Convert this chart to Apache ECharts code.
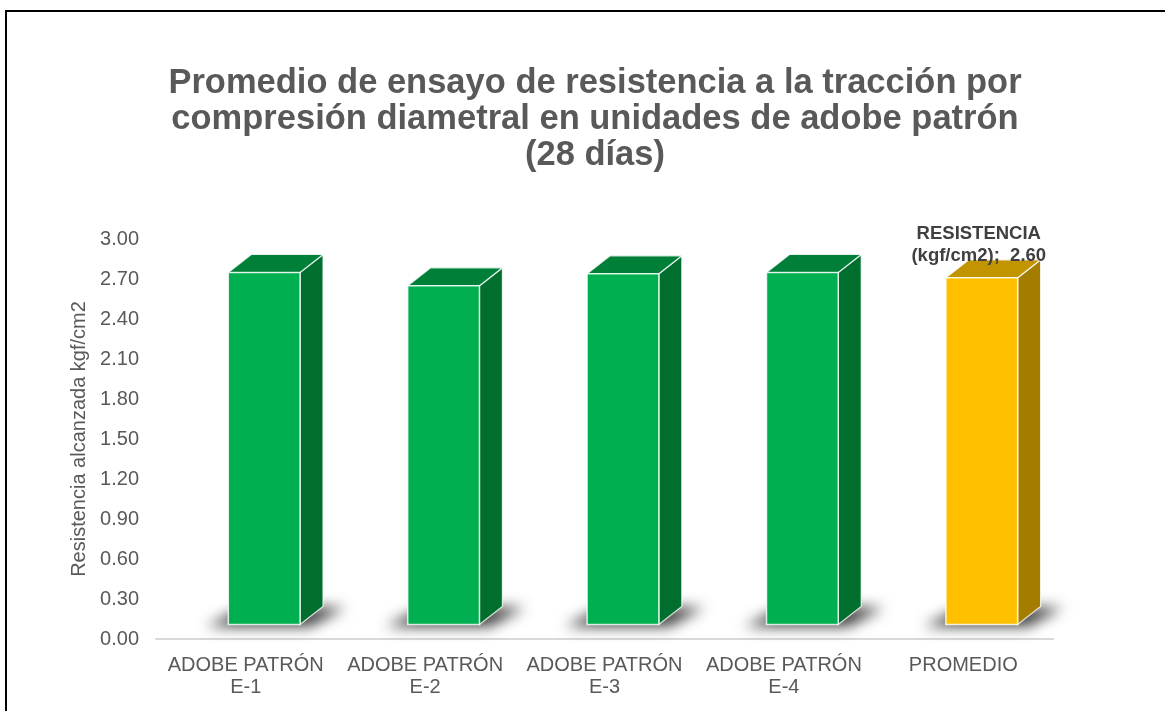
<!DOCTYPE html>
<html>
<head>
<meta charset="utf-8">
<script src="https://cdn.jsdelivr.net/npm/echarts@6/dist/echarts.min.js"></script>
<style>
  html, body { margin: 0; padding: 0; background: #ffffff; }
  #chart { width: 1165px; height: 711px; }
</style>
</head>
<body>
<div id="chart"></div>
<script>
// Chart data
var titleText = 'Promedio de ensayo de resistencia a la tracción por\ncompresión diametral en unidades de adobe patrón\n(28 días)';
var categories = ['ADOBE PATRÓN\nE-1', 'ADOBE PATRÓN\nE-2', 'ADOBE PATRÓN\nE-3', 'ADOBE PATRÓN\nE-4', 'PROMEDIO'];
var resistencia = [2.64, 2.54, 2.63, 2.64, 2.60];
var seriesName = 'RESISTENCIA\n(kgf/cm2)';
var yAxisName = 'Resistencia alcanzada kgf/cm2';
var labelledIndex = 4; // only the average bar carries a value label

var faceColors = {
  green: { front: '#00B050', top: '#007F38', side: '#006F2E' },
  gold:  { front: '#FFC000', top: '#C29400', side: '#A37C00' }
};

var chart = echarts.init(document.getElementById('chart'), null, { renderer: 'canvas' });

// Draws one pseudo-3D column: floor shadow, side face, top face and front face.
function renderColumn(params, api) {
  var idx = api.value(0);
  var v = api.value(1);
  var band = api.size([1, 0])[0];
  var base = api.coord([idx, 0]);
  var top = api.coord([idx, v]);
  var lift = 14.5;               // front face sits slightly above the floor line
  var w = band * 0.40;
  var off = band * 0.103;
  var dx = band * 0.128, dy = 18;
  var x0 = base[0] + off - w / 2, x1 = x0 + w;
  var yb = base[1] - lift, yt = top[1] - lift;
  var col = idx === categories.length - 1 ? faceColors.gold : faceColors.green;
  var edge = 'rgba(255,255,255,0.8)';
  var far = 4000; // shadow shape is drawn off-canvas, only its blur is shifted back

  var children = [
    {
      type: 'polygon',
      shape: { points: [
        [x0 - 22 - far, yb + 2], [x1 + 10 - far, yb + 2],
        [x1 + dx + 22 - far, yb - dy + 1], [x0 + dx - 6 - far, yb - dy + 1]
      ] },
      style: {
        fill: 'rgba(0,0,0,0.9)',
        shadowBlur: 14,
        shadowColor: 'rgba(0,0,0,0.85)',
        shadowOffsetX: far,
        shadowOffsetY: 0
      },
      silent: true
    },
    {
      type: 'polygon',
      shape: { points: [[x1, yt], [x1 + dx, yt - dy], [x1 + dx, yb - dy], [x1, yb]] },
      style: { fill: col.side, stroke: edge, lineWidth: 1.2 }
    },
    {
      type: 'polygon',
      shape: { points: [[x0, yt], [x1, yt], [x1 + dx, yt - dy], [x0 + dx, yt - dy]] },
      style: { fill: col.top, stroke: edge, lineWidth: 1.2 }
    },
    {
      type: 'rect',
      shape: { x: x0, y: yt, width: w, height: yb - yt },
      style: { fill: col.front, stroke: edge, lineWidth: 1.5 }
    }
  ];

  if (idx === labelledIndex) {
    children.push({
      type: 'text',
      style: {
        text: seriesName.split('\n')[0] + '\n' + seriesName.split('\n')[1] + ';  ' + v.toFixed(2),
        x: x0 + w / 2 - 3,
        y: yt - dy - 15,
        align: 'center',
        verticalAlign: 'middle',
        fontFamily: '"Liberation Sans", Arial, sans-serif',
        fontWeight: 'bold',
        fontSize: 18.5,
        lineHeight: 22,
        fill: '#404040'
      }
    });
  }
  return { type: 'group', children: children };
}

var option = {
  backgroundColor: '#ffffff',
  animation: false,
  title: {
    text: titleText,
    left: 595,
    textAlign: 'center',
    top: 65,
    padding: 0,
    textStyle: {
      fontFamily: '"Liberation Sans", Arial, sans-serif',
      fontSize: 34.5,
      fontWeight: 'bold',
      color: '#595959',
      lineHeight: 36
    }
  },
  graphic: [
    {
      type: 'rect',
      shape: { x: 6, y: 11, width: 1400, height: 1000 },
      style: { fill: 'none', stroke: '#000000', lineWidth: 2 },
      silent: true
    }
  ],
  grid: { left: 156, right: 112, top: 239, bottom: 72, containLabel: false },
  xAxis: {
    type: 'category',
    data: categories,
    axisLine: { show: true, lineStyle: { color: '#D9D9D9', width: 2 } },
    axisTick: { show: false },
    splitLine: { show: false },
    axisLabel: {
      margin: 15,
      fontFamily: '"Liberation Sans", Arial, sans-serif',
      fontSize: 20,
      lineHeight: 22,
      color: '#595959',
      interval: 0
    }
  },
  yAxis: {
    type: 'value',
    min: 0,
    max: 3,
    interval: 0.3,
    name: yAxisName,
    nameLocation: 'middle',
    nameGap: 66,
    nameRotate: 90,
    nameTextStyle: {
      fontFamily: '"Liberation Sans", Arial, sans-serif',
      fontSize: 20,
      color: '#595959'
    },
    axisLine: { show: false },
    axisTick: { show: false },
    splitLine: { show: false },
    axisLabel: {
      margin: 17,
      fontFamily: '"Liberation Sans", Arial, sans-serif',
      fontSize: 20,
      color: '#595959',
      formatter: function (val) { return val.toFixed(2); }
    }
  },
  series: [
    {
      name: seriesName,
      type: 'custom',
      renderItem: renderColumn,
      clip: false,
      encode: { x: 0, y: 1 },
      data: resistencia.map(function (v, i) { return [i, v]; })
    }
  ]
};

chart.setOption(option);
</script>
</body>
</html>
